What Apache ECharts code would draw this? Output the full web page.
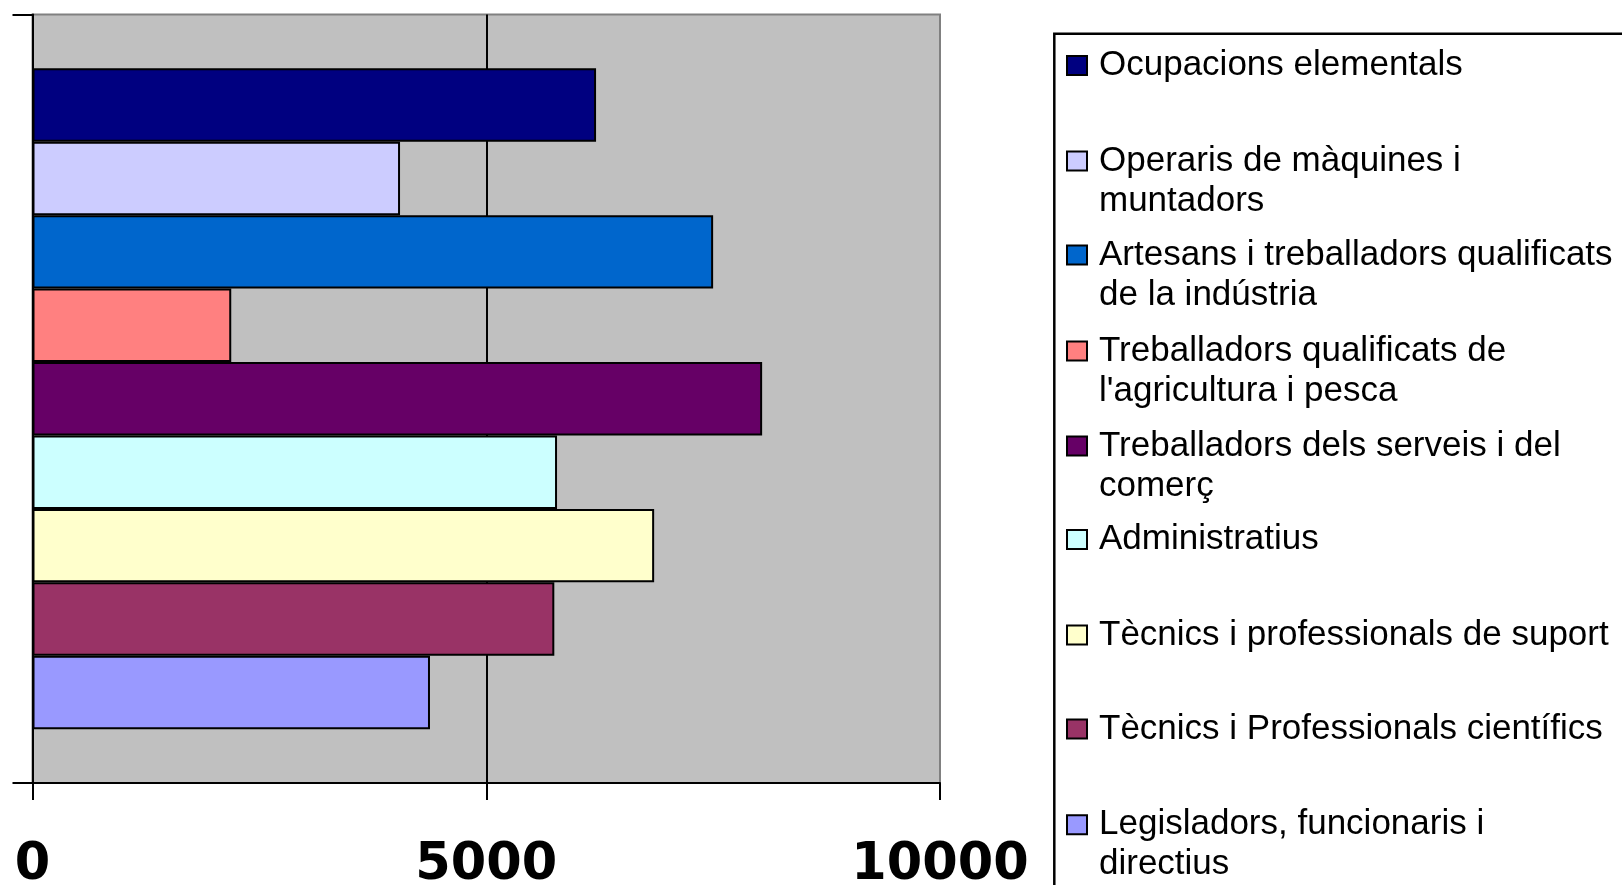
<!DOCTYPE html>
<html>
<head>
<meta charset="utf-8">
<script src="https://cdn.jsdelivr.net/npm/echarts@6/dist/echarts.min.js"></script>
<style>
html,body{margin:0;padding:0;background:#fff;}
#chart{width:1622px;height:885px;}
</style>
</head>
<body>
<div id="chart"></div>
<script>
const seriesNames = [
  "Ocupacions elementals",
  "Operaris de màquines i muntadors",
  "Artesans i treballadors qualificats de la indústria",
  "Treballadors qualificats de l'agricultura i pesca",
  "Treballadors dels serveis i del comerç",
  "Administratius",
  "Tècnics i professionals de suport",
  "Tècnics i Professionals científics",
  "Legisladors, funcionaris i directius"
];
const legendLabels = [
  "Ocupacions elementals",
  "Operaris de màquines i\nmuntadors",
  "Artesans i treballadors qualificats\nde la indústria",
  "Treballadors qualificats de\nl'agricultura i pesca",
  "Treballadors dels serveis i del\ncomerç",
  "Administratius",
  "Tècnics i professionals de suport",
  "Tècnics i Professionals científics",
  "Legisladors, funcionaris i\ndirectius"
];
const values = [6210, 4050, 7500, 2190, 8040, 5780, 6850, 5750, 4380];
const colors = ["#000080", "#CCCCFF", "#0066CC", "#FF8080", "#660066", "#CCFFFF", "#FFFFCC", "#993366", "#9999FF"];
const categories = [""];
const xTicks = { min: 0, max: 10000, interval: 5000 };

const chart = echarts.init(document.getElementById('chart'), null, { renderer: 'canvas' });

const series = seriesNames.map((name, i) => ({
  name: name,
  type: 'bar',
  data: [values[i]],
  barGap: '0%',
  barCategoryGap: '14%',
  itemStyle: { color: colors[i], borderColor: '#000', borderWidth: 2 },
  emphasis: { disabled: true }
}));

const legendCenters = [62.5, 158, 252, 348, 443, 536.5, 632, 726, 821.7];
const legends = seriesNames.map((name, i) => {
  const twoLine = legendLabels[i].indexOf('\n') >= 0;
  const shown = twoLine ? '\u00a0\n' + legendLabels[i] : legendLabels[i];
  return {
    data: [name],
    orient: 'vertical',
    left: 1066,
    top: legendCenters[i] + 3 - (twoLine ? 60 : 20),
    padding: 0,
    itemWidth: 20,
    itemHeight: 19,
    icon: 'rect',
    selectedMode: false,
    itemStyle: { borderColor: '#000', borderWidth: 2 },
    formatter: () => shown,
    textStyle: {
      fontFamily: 'Liberation Sans, Arial, sans-serif',
      fontSize: 35,
      color: '#000',
      lineHeight: 40,
      padding: [0, 0, 0, 7]
    }
  };
});

const option = {
  animation: false,
  backgroundColor: '#ffffff',
  grid: {
    left: 32.5, right: 682, top: 14.5, bottom: 102,
    containLabel: false,
    outerBoundsMode: 'none',
    show: true, backgroundColor: '#C0C0C0', borderColor: '#808080', borderWidth: 2
  },
  xAxis: {
    type: 'value',
    min: xTicks.min, max: xTicks.max, interval: xTicks.interval,
    axisLine: { show: true, lineStyle: { color: '#000', width: 2 } },
    axisTick: { show: true, length: 17, lineStyle: { color: '#000', width: 2 } },
    splitLine: { show: true, showMinLine: false, showMaxLine: false, lineStyle: { color: '#000', width: 2 } },
    axisLabel: {
      margin: 57,
      color: '#000',
      fontFamily: 'DejaVu Sans, sans-serif',
      fontWeight: 'bold',
      fontSize: 51,
      formatter: (v) => String(v)
    }
  },
  yAxis: {
    type: 'category',
    data: categories,
    axisLine: { show: true, lineStyle: { color: '#000', width: 2 } },
    axisTick: { show: true, length: 20, lineStyle: { color: '#000', width: 2 } },
    axisLabel: { show: false },
    splitLine: { show: false }
  },
  legend: legends,
  graphic: [{
    type: 'rect',
    shape: { x: 1054.3, y: 33.8, width: 700, height: 900 },
    style: { fill: 'none', stroke: '#000', lineWidth: 2.5 },
    silent: true,
    z: 10
  }],
  series: series
};
chart.setOption(option);
</script>
</body>
</html>
